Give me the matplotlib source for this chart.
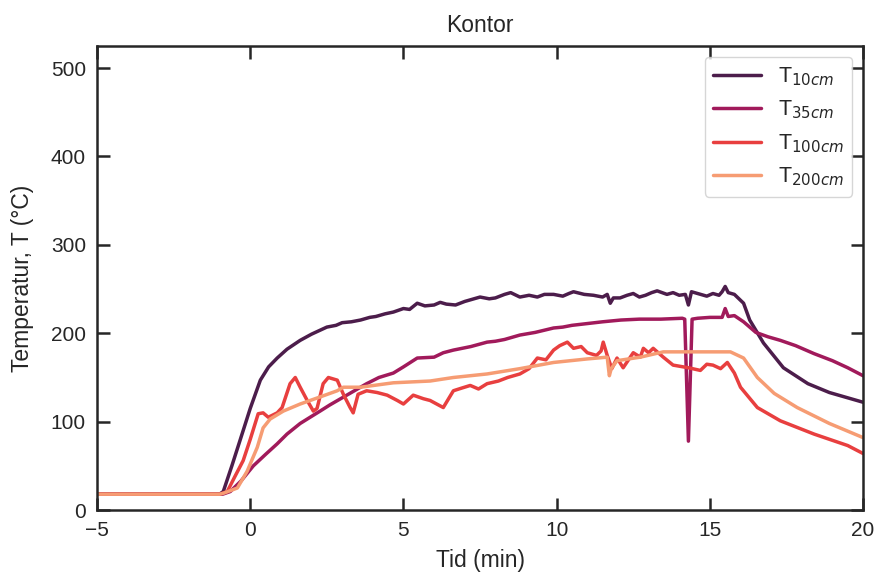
import numpy as np
import matplotlib
matplotlib.use('Agg')
import matplotlib.pyplot as plt
import seaborn as sns

# values (time in min, temperature in degC)
t10 = [-5, -1.0, -0.88, -0.6, -0.23, 0.0, 0.33, 0.6, 0.88, 1.2, 1.63, 2.0, 2.5, 2.8, 3.0, 3.3, 3.6, 3.9, 4.1,
       4.4, 4.67, 5.0, 5.2, 5.45, 5.7, 6.0, 6.2, 6.4, 6.7, 7.0, 7.2, 7.5, 7.8, 8.0, 8.3, 8.5, 8.8, 9.1, 9.37,
       9.6, 9.9, 10.2, 10.4, 10.55, 10.9, 11.2, 11.5, 11.65, 11.75, 11.85, 12.07, 12.3, 12.5, 12.7, 12.9,
       13.1, 13.28, 13.6, 13.8, 14.0, 14.2, 14.3, 14.4, 14.7, 14.9, 15.1, 15.3, 15.4, 15.5, 15.6, 15.8,
       16.1, 16.3, 16.75, 17.4, 18.2, 18.9, 19.5, 20]
T10 = [18, 18, 21, 50, 90, 115, 147, 162, 172, 182, 192, 199, 207, 209, 212, 213, 215, 218, 219,
       222, 224, 228, 227, 234, 231, 232, 235, 233, 232, 236, 238, 241, 239, 240, 244, 246, 241, 243, 241,
       244, 244, 242, 245, 247, 244, 243, 241, 244, 234, 240, 240, 243, 245, 241, 243,
       246, 248, 244, 246, 243, 244, 232, 247, 244, 242, 245, 243, 247, 253, 246, 244,
       234, 215, 189, 161, 143, 133, 127, 122]

t35 = [-5, -0.9, -0.65, -0.3, 0.1, 0.5, 0.88, 1.2, 1.63, 2.0, 2.28, 2.6, 3.0, 3.4, 3.8, 4.2, 4.67, 5.0,
       5.45, 6.0, 6.3, 6.63, 7.2, 7.73, 8.0, 8.3, 8.8, 9.3, 9.9, 10.2, 10.5, 11.0, 11.5, 12.1, 12.7, 13.4,
       14.1, 14.18, 14.3, 14.42, 14.6, 15.0, 15.4, 15.5, 15.6, 15.8, 16.1, 16.5, 16.9, 17.3, 17.8, 18.4,
       19.0, 19.5, 20]
T35 = [18, 18, 21, 33, 50, 63, 75, 86, 98, 106, 112, 119, 127, 135, 143, 150, 155, 162,
       172, 173, 178, 181, 185, 190, 191, 193, 198, 201, 206, 207, 209, 211, 213, 215, 216, 216,
       217, 216, 78, 216, 217, 218, 218, 228, 219, 220, 213, 201, 196, 192, 186, 177,
       169, 161, 152]

t100 = [-5, -1.0, -0.75, -0.5, -0.23, 0.0, 0.26, 0.42, 0.59, 0.88, 1.04, 1.3, 1.47, 1.63, 1.86, 2.06,
        2.18, 2.38, 2.55, 2.84, 3.04, 3.26, 3.36, 3.52, 3.8, 4.14, 4.47, 4.8, 5.0, 5.32, 5.65, 5.87,
        6.3, 6.63, 6.9, 7.18, 7.45, 7.73, 8.1, 8.4, 8.8, 9.1, 9.37, 9.65, 9.9, 10.1, 10.35, 10.55,
        10.8, 11.0, 11.3, 11.45, 11.52, 11.65, 11.8, 11.97, 12.17, 12.5, 12.73, 12.83, 13.0, 13.15,
        13.48, 13.8, 14.3, 14.69, 14.9, 15.1, 15.35, 15.57, 15.8, 16.0, 16.55, 17.3, 18.4, 19.5, 20]
T100 = [18, 18, 21, 38, 56, 80, 109, 110, 105, 110, 116, 143, 150, 139, 124, 112,
        115, 143, 150, 147, 131, 116, 110, 131, 135, 133, 130, 124, 120, 130, 126, 124,
        116, 135, 138, 141, 137, 143, 146, 150, 154, 160, 172, 170, 181, 186, 190, 183,
        185, 178, 175, 180, 190, 175, 160, 172, 161, 178, 173, 183, 178, 183,
        173, 164, 161, 158, 165, 164, 160, 167, 155, 139, 116, 101, 86, 73, 64]

t200 = [-5, -1.0, -0.88, -0.42, -0.1, 0.23, 0.42, 0.65, 1.08, 1.63, 2.28, 2.84, 3.04, 3.6, 4.67, 5.87,
        6.63, 7.73, 8.8, 9.9, 11.0, 11.65, 11.72, 11.78, 11.97, 12.73, 13.48, 14.6, 15.67, 16.1, 16.55,
        17.1, 17.85, 18.9, 20]
T200 = [18, 18, 19, 25, 44, 71, 93, 103, 112, 120, 128, 135, 139, 139, 144, 146,
        150, 154, 160, 167, 171, 173, 152, 160, 169, 173, 179, 179, 179, 172, 150,
        132, 116, 98, 82]

labels = ['T$_{10cm}$', 'T$_{35cm}$', 'T$_{100cm}$', 'T$_{200cm}$']

sns.set_theme(style='ticks')
plt.rcParams['font.family'] = ['Liberation Sans', 'DejaVu Sans']
colors = sns.color_palette('rocket', 4)

fig = plt.figure(figsize=(8.78, 5.79), dpi=100)
ax = fig.add_axes([0.1105, 0.119, 0.8725, 0.8016])

for tt, yy, lab, c in zip([t10, t35, t100, t200], [T10, T35, T100, T200], labels, colors):
    ax.plot(tt, yy, label=lab, color=c, linewidth=2.5)

ax.set_xlim(-5, 20)
ax.set_ylim(0, 525)
ax.set_xticks([-5, 0, 5, 10, 15, 20])
ax.set_yticks([0, 100, 200, 300, 400, 500])
ax.tick_params(direction='in', length=9, width=1.8, labelsize=15, colors='#262626',
               top=True, right=True, pad=8)
for s in ax.spines.values():
    s.set_linewidth(1.8)
    s.set_color('#262626')

ax.set_xlabel('Tid (min)', fontsize=16.5, color='#262626', labelpad=6)
ax.set_ylabel('Temperatur, T (°C)', fontsize=16.5, color='#262626', labelpad=12)
ax.set_title('Kontor', fontsize=16.5, color='#262626', pad=10)
ax.legend(loc='upper right', fontsize=15.5, handlelength=2.2)

fig.savefig('out.png', dpi=100)
